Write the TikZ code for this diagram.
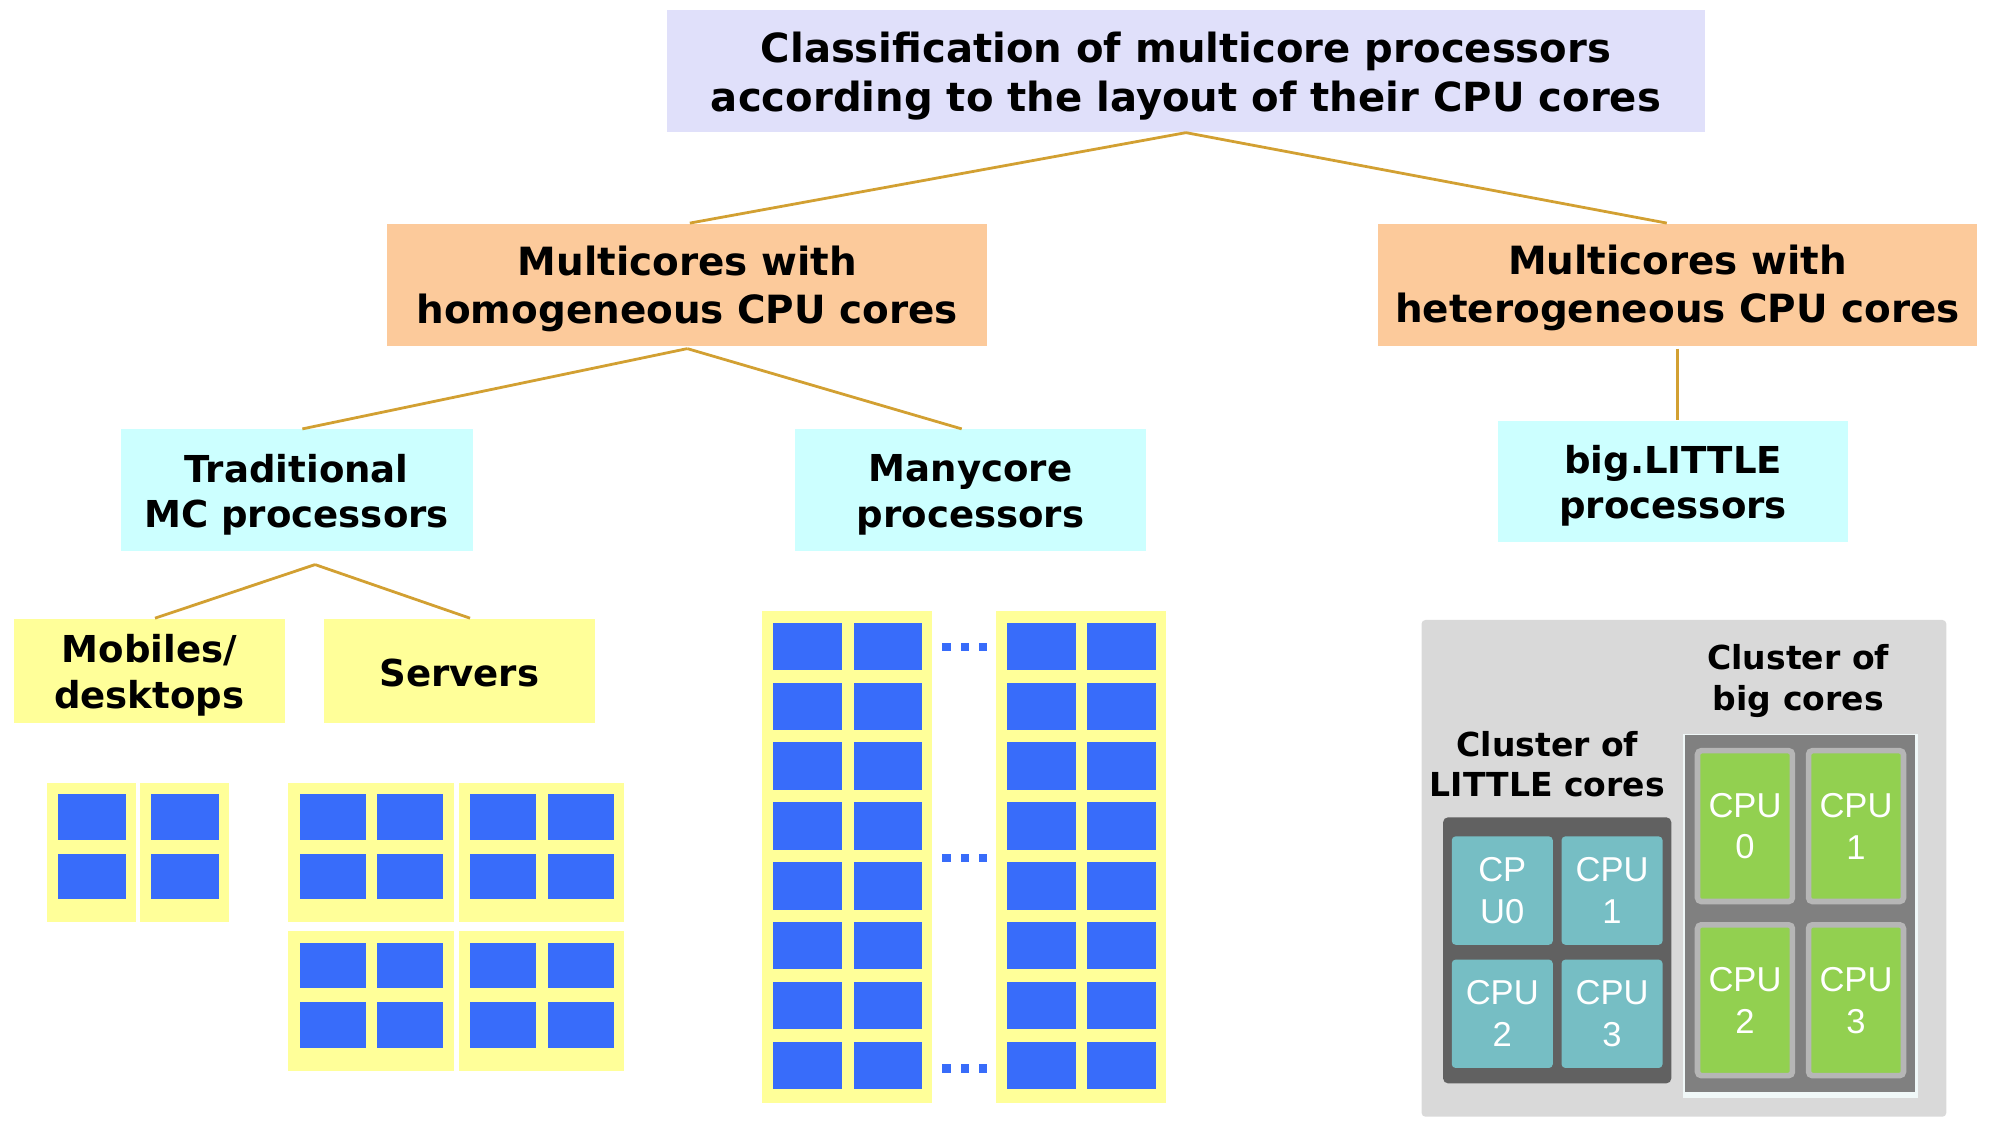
\documentclass[tikz,border=0pt]{standalone}
\usepackage{fontspec}
\setmainfont{DejaVu Sans}
\newfontfamily\cpufont{Liberation Sans}
\definecolor{titlec}{RGB}{224,224,250}
\definecolor{orangec}{RGB}{252,202,155}
\definecolor{cyanc}{RGB}{204,255,255}
\definecolor{ylwc}{RGB}{255,255,153}
\definecolor{corec}{RGB}{56,108,250}
\definecolor{goldc}{RGB}{210,160,50}
\definecolor{panelc}{RGB}{217,217,217}
\definecolor{dkgrayc}{RGB}{97,97,97}
\definecolor{tealc}{RGB}{118,190,196}
\definecolor{midgrayc}{RGB}{128,128,128}
\definecolor{ltgrayc}{RGB}{182,182,182}
\definecolor{greenc}{RGB}{146,208,80}
\definecolor{edgec}{RGB}{240,248,248}
\begin{document}
\begin{tikzpicture}[x=0.5pt,y=-0.5pt,
  box/.style={rectangle, inner sep=0pt},
  lbl/.style={inner sep=0pt, align=center, text=black},
  big/.style={font=\bfseries\fontsize{15.8}{19}\selectfont},
  mid/.style={font=\bfseries\fontsize{15.3}{19}\selectfont},
  sml/.style={font=\bfseries\fontsize{14.6}{18}\selectfont},
  clab/.style={inner sep=0pt, align=center, font=\bfseries\fontsize{13}{16}\selectfont},
  conn/.style={draw=goldc, line width=1.1pt},
  ylw/.style={fill=ylwc},
  core/.style={fill=corec},
  littlecell/.style={rectangle, rounded corners=1.5pt, fill=tealc, inner sep=0pt, align=center,
    text=white, font=\cpufont\fontsize{13.6}{16.5}\selectfont, minimum width=39.75pt, minimum height=42.65pt},
  bigcell/.style={rectangle, rounded corners=1.5pt, fill=greenc, draw=ltgrayc, line width=2.2pt, inner sep=0pt, align=center,
    text=white, font=\cpufont\fontsize{13.6}{16.5}\selectfont, minimum width=37.35pt, minimum height=59.35pt}
]
\useasboundingbox (0,0) rectangle (1568,896);

% hierarchy boxes
\node[box, fill=titlec, minimum width=408.5pt, minimum height=48pt] (title) at (933.5,56) {};
\node[lbl, big] (titlet) at ([yshift=-1.9pt]title.center)
  {Classification of multicore processors\\according to the layout of their CPU cores};
\node[box, fill=orangec, minimum width=236pt, minimum height=48pt] (homog) at (541,224) {};
\node[lbl, mid] (homogt) at ([yshift=-1.6pt]homog.center) {Multicores with\\homogeneous CPU cores};
\node[box, fill=orangec, minimum width=235.5pt, minimum height=48pt] (heter) at (1320.5,224) {};
\node[lbl, mid] (hetert) at ([yshift=-1.4pt]heter.center) {Multicores with\\heterogeneous CPU cores};
\node[box, fill=cyanc, minimum width=138.5pt, minimum height=48pt] (trad) at (233.5,386) {};
\node[lbl, sml] (tradt) at ([yshift=-1.7pt]trad.center) {Traditional\\MC processors};
\node[box, fill=cyanc, minimum width=138pt, minimum height=48pt] (many) at (764,386) {};
\node[lbl, sml] (manyt) at ([yshift=-1.7pt]many.center) {Manycore\\processors};
\node[box, fill=cyanc, minimum width=138pt, minimum height=48pt] (bigl) at (1317,379) {};
\node[lbl, sml] (biglt) at ([yshift=-1.7pt]bigl.center) {big.LITTLE\\processors};
\node[box, fill=ylwc, minimum width=106.5pt, minimum height=41pt] (mob) at (117.5,528) {};
\node[lbl, sml] (mobt) at ([yshift=-1.7pt]mob.center) {Mobiles/\\desktops};
\node[box, fill=ylwc, minimum width=106.5pt, minimum height=41pt] (serv) at (361.5,528) {};
\node[lbl, sml] (servt) at ([yshift=-1pt]serv.center) {Servers};

% connectors
\draw[conn] (title.south) -- ([xshift=1pt]homog.north);
\draw[conn] (title.south) -- ([xshift=-4.25pt]heter.north);
\draw[conn] ([yshift=-1pt]homog.south) -- ([xshift=2.25pt]trad.north);
\draw[conn] ([yshift=-1pt]homog.south) -- ([xshift=-3.5pt]many.north);
\draw[conn] ([yshift=-1pt]heter.south) -- (heter.south |- bigl.north);
\draw[conn] ([xshift=7.25pt,yshift=-5pt]trad.south) -- ([xshift=2.25pt]mob.north);
\draw[conn] ([xshift=7.25pt,yshift=-5pt]trad.south) -- ([xshift=4.25pt]serv.north);

% mobile/desktop cores
\foreach \x in {37,110}{
  \fill[ylw] (\x,616) rectangle ++(70,110);
  \foreach \y in {625,672}{\fill[core] (\x+9,\y) rectangle ++(53,36);}
}
% server cores
\foreach \x in {227,361}{
  \foreach \y in {616,733}{
    \fill[ylw] (\x,\y) rectangle ++(130,110);
    \foreach \dx in {9,70}{
      \foreach \dy in {9,56}{\fill[core] (\x+\dx,\y+\dy) rectangle ++(52,36);}
    }
  }
}
% manycore
\foreach \x in {600,784}{
  \fill[ylw] (\x,481) rectangle ++(134,387);
  \foreach \k in {0,...,7}{
    \foreach \dx in {8.6,71.9}{\fill[core] (\x+\dx,490.2+47.1*\k) rectangle ++(54,37.4);}
  }
}
\foreach \y in {509,675.5,841}{
  \foreach \x in {745,759.5,774}{\fill[core] (\x-3.25,\y-3.25) rectangle ++(6.5,6.5);}
}

% big.LITTLE
\fill[panelc, rounded corners=1.5pt] (1119,488) rectangle (1532,879);
\node[clab] (bigcap) at (1415.5,536) {Cluster of\\big cores};
\node[clab] (litcap) at (1218,601.5) {Cluster of\\LITTLE cores};
\fill[dkgrayc, rounded corners=2pt] (1135.9,643.3) rectangle (1315.6,852.8);
\node[littlecell] (l0) at (1182.5,701) {CP\\U0};
\node[littlecell] (l1) at (1268.9,701) {CPU\\1};
\node[littlecell] (l2) at (1182.5,798) {CPU\\2};
\node[littlecell] (l3) at (1268.9,798) {CPU\\3};
\fill[edgec] (1324.5,577.9) rectangle (1510,864);
\fill[midgrayc] (1326.6,578.7) rectangle (1507.7,859.3);
\node[bigcell] (b0) at (1373.55,650.25) {CPU\\0};
\node[bigcell] (b1) at (1460.95,650.25) {CPU\\1};
\node[bigcell] (b2) at (1373.55,787.3) {CPU\\2};
\node[bigcell] (b3) at (1460.95,787.3) {CPU\\3};
\end{tikzpicture}
\end{document}
